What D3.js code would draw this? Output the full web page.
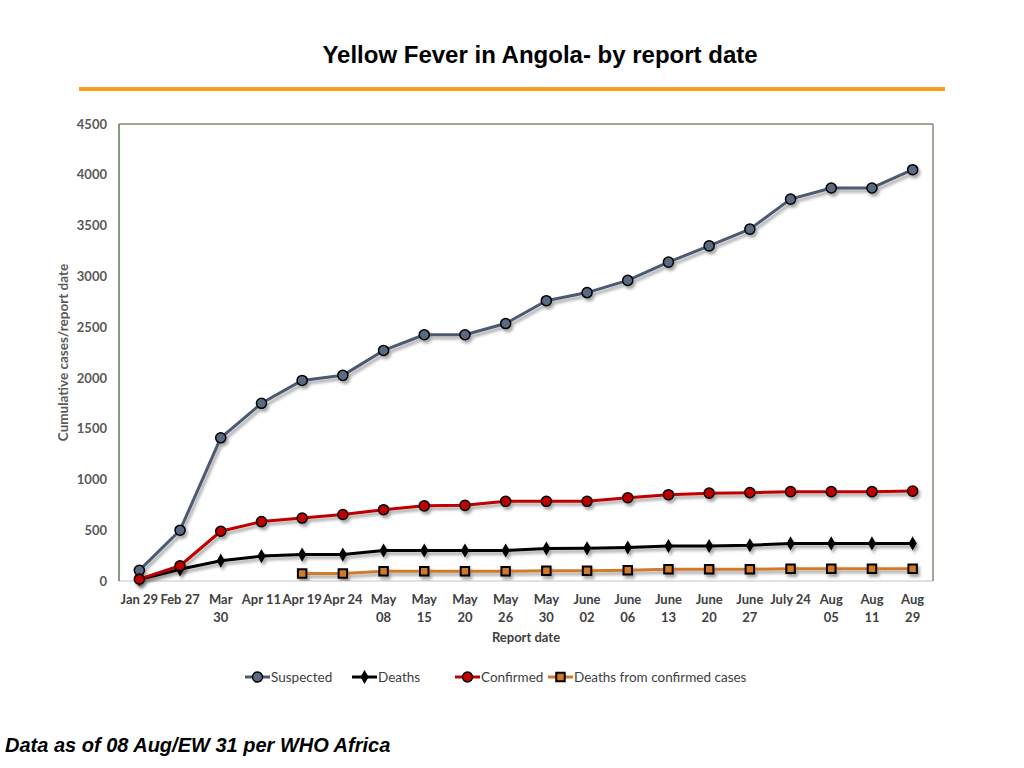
<!DOCTYPE html>
<html>
<head>
<meta charset="utf-8">
<script src="https://cdn.jsdelivr.net/npm/d3@7"></script>
<style>
  html, body { margin: 0; padding: 0; background: #fff; }
  svg { display: block; }
</style>
</head>
<body>
<div id="vis"></div>
<script>
// categories (report dates), "\n" marks where the axis label wraps
var tickLabels = ["Jan 29", "Feb 27", "Mar\n30", "Apr 11", "Apr 19", "Apr 24", "May\n08", "May\n15",
    "May\n20", "May\n26", "May\n30", "June\n02", "June\n06", "June\n13", "June\n20", "June\n27",
    "July 24", "Aug\n05", "Aug\n11", "Aug\n29"];

var suspected = [105, 500, 1410, 1750, 1975, 2025, 2270, 2425, 2425, 2535, 2760, 2840, 2960, 3140,
    3300, 3465, 3760, 3870, 3870, 4050];
var deaths = [15, 115, 200, 245, 260, 260, 300, 300, 300, 300, 320, 322, 330, 345, 345, 352, 370, 370,
    370, 370];
var confirmed = [18, 150, 490, 585, 620, 655, 702, 740, 745, 785, 785, 785, 820, 850, 865, 870, 880,
    880, 880, 885];
// null = not reported yet
var deathsConfirmed = [null, null, null, null, 75, 75, 95, 95, 95, 95, 100, 100, 105, 115, 115, 115,
    120, 120, 120, 120];

var yTicks = [0, 500, 1000, 1500, 2000, 2500, 3000, 3500, 4000, 4500];

var W = 1024, H = 768;
var margin = { top: 124, right: 91, bottom: 187, left: 119 },
    width = W - margin.left - margin.right,
    height = H - margin.top - margin.bottom;

var svg = d3.select("#vis")
    .append("svg")
    .attr("width", W)
    .attr("height", H);

var defs = svg.append("defs");
var shadow = defs.append("filter")
    .attr("id", "shadow")
    .attr("x", "-20%").attr("y", "-20%")
    .attr("width", "140%").attr("height", "140%");
shadow.append("feDropShadow")
    .attr("dx", 2).attr("dy", 3)
    .attr("stdDeviation", 1.8)
    .attr("flood-color", "#000")
    .attr("flood-opacity", 0.35);

// title + orange rule
svg.append("text")
    .attr("x", 540)
    .attr("y", 63)
    .attr("text-anchor", "middle")
    .style("font-family", "'Liberation Sans Narrow', 'Arial Narrow', 'Liberation Sans', sans-serif")
    .style("font-weight", "700")
    .style("font-size", "24px")
    .attr("fill", "#000")
    .text("Yellow Fever in Angola- by report date");

svg.append("rect")
    .attr("x", 79).attr("y", 87)
    .attr("width", 866).attr("height", 4)
    .attr("fill", "#f5a01a");

var g = svg.append("g")
    .attr("transform", "translate(" + margin.left + "," + margin.top + ")");

var x = d3.scaleBand()
    .domain(tickLabels)
    .range([0, width]);

var y = d3.scaleLinear()
    .domain([0, 4500])
    .range([height, 0]);

function cx(d, i) { return x(tickLabels[i]) + x.bandwidth() / 2; }

// plot frame
g.append("line").attr("x1", 0).attr("x2", width).attr("y1", height).attr("y2", height)
    .attr("stroke", "#d9d9d9").attr("stroke-width", 1.5);
g.append("line").attr("x1", 0).attr("x2", width).attr("y1", 0).attr("y2", 0)
    .attr("stroke", "#7d8c73").attr("stroke-width", 1.5);
g.append("line").attr("x1", width).attr("x2", width).attr("y1", 0).attr("y2", height)
    .attr("stroke", "#7d8c73").attr("stroke-width", 1.5);
g.append("line").attr("x1", 0).attr("x2", 0).attr("y1", 0).attr("y2", height)
    .attr("stroke", "#5d7d4a").attr("stroke-width", 1.5);

// Y axis
var yAxis = g.append("g")
    .call(d3.axisLeft(y).tickValues(yTicks).tickSize(0).tickPadding(12).tickFormat(d3.format("d")));
yAxis.select("path.domain").attr("stroke", "none");
yAxis.selectAll("text")
    .style("font-family", "Lato, 'Open Sans', sans-serif")
    .style("font-weight", "700")
    .style("font-size", "13px")
    .attr("fill", "#595959");

svg.append("text")
    .attr("transform", "translate(68," + (margin.top + height / 2) + ") rotate(-90)")
    .attr("text-anchor", "middle")
    .style("font-family", "Lato, 'Open Sans', sans-serif")
    .style("font-weight", "700")
    .style("font-size", "13.5px")
    .attr("fill", "#595959")
    .text("Cumulative cases/report date");

// X axis
var xAxis = g.append("g")
    .attr("transform", "translate(0," + height + ")")
    .call(d3.axisBottom(x).tickSize(0).tickFormat(""));
xAxis.select("path.domain").attr("stroke", "none");
xAxis.selectAll(".tick text").remove();
xAxis.selectAll(".tick").each(function (d) {
    var t = d3.select(this).append("text")
        .attr("text-anchor", "middle")
        .style("font-family", "Lato, 'Open Sans', sans-serif")
        .style("font-weight", "700")
        .style("font-size", "13px")
        .attr("fill", "#404040");
    d.split("\n").forEach(function (line, k) {
        t.append("tspan").attr("x", 0).attr("y", 23 + k * 18).text(line);
    });
});

svg.append("text")
    .attr("x", margin.left + width / 2)
    .attr("y", 642)
    .attr("text-anchor", "middle")
    .style("font-family", "Lato, 'Open Sans', sans-serif")
    .style("font-weight", "700")
    .style("font-size", "13px")
    .attr("fill", "#404040")
    .text("Report date");

// series
var series = [
    { name: "Suspected", values: suspected, color: "#4b5a71", marker: "circle", fill: "#5a6b82" },
    { name: "Deaths", values: deaths, color: "#000000", marker: "diamond", fill: "#000000" },
    { name: "Confirmed", values: confirmed, color: "#c00000", marker: "circle", fill: "#c00000" },
    { name: "Deaths from confirmed cases", values: deathsConfirmed, color: "#d07a2c", marker: "square", fill: "#d07a2c" }
];

var symbols = {
    circle: d3.symbol().type(d3.symbolCircle).size(80),
    diamond: d3.symbol().type(d3.symbolDiamond).size(36),
    square: d3.symbol().type(d3.symbolSquare).size(72)
};

var line = d3.line()
    .defined(function (d) { return d != null; })
    .x(cx)
    .y(function (d) { return y(d); });

series.forEach(function (s) {
    var sg = g.append("g").attr("filter", "url(#shadow)");
    sg.append("path")
        .datum(s.values)
        .attr("fill", "none")
        .attr("stroke", s.color)
        .attr("stroke-width", 3)
        .attr("stroke-linejoin", "round")
        .attr("d", line);
    sg.selectAll("path.pt")
        .data(s.values.map(function (v, i) { return { v: v, i: i }; })
            .filter(function (d) { return d.v != null; }))
        .enter()
        .append("path")
        .attr("class", "pt")
        .attr("transform", function (d) {
            return "translate(" + cx(d.v, d.i) + "," + y(d.v) + ")";
        })
        .attr("d", symbols[s.marker])
        .attr("fill", s.fill)
        .attr("stroke", "#000")
        .attr("stroke-width", s.marker == "square" ? 2 : 1.5);
});

// legend
var legendX = [245, 352, 455, 548];
var legend = svg.append("g").attr("transform", "translate(0,677)");
series.forEach(function (s, i) {
    var lg = legend.append("g").attr("transform", "translate(" + legendX[i] + ",0)");
    lg.append("line")
        .attr("x1", 0).attr("x2", 25)
        .attr("stroke", s.color)
        .attr("stroke-width", 3);
    lg.append("path")
        .attr("transform", "translate(12.5,0)")
        .attr("d", symbols[s.marker])
        .attr("fill", s.fill)
        .attr("stroke", "#000")
        .attr("stroke-width", s.marker == "square" ? 2 : 1.5);
    lg.append("text")
        .attr("x", 26)
        .attr("y", 4.5)
        .style("font-family", "Lato, 'Open Sans', sans-serif")
        .style("font-size", "13.5px")
        .attr("fill", "#404040")
        .text(s.name);
});

// footnote
svg.append("text")
    .attr("x", 5)
    .attr("y", 752)
    .style("font-family", "'Liberation Sans', Arial, sans-serif")
    .style("font-weight", "700")
    .style("font-style", "italic")
    .style("font-size", "20px")
    .attr("fill", "#000")
    .text("Data as of 08 Aug/EW 31 per WHO Africa");
</script>
</body>
</html>
